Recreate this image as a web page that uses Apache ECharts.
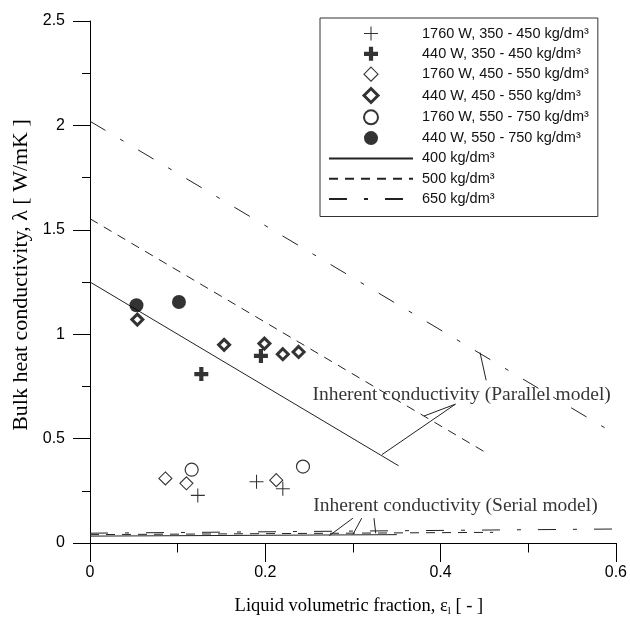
<!DOCTYPE html>
<html>
<head>
<meta charset="utf-8">
<script src="https://cdn.jsdelivr.net/npm/echarts@6/dist/echarts.min.js"></script>
<style>
html,body{margin:0;padding:0;background:#fff;}
#chart{width:630px;height:622px;}
</style>
</head>
<body>
<div id="chart"></div>
<script>
// ---- measured points (x = liquid volumetric fraction, y = bulk conductivity) ----
const plus1760 = [[0.123, 0.228], [0.190, 0.293], [0.220, 0.260]];
const plus440  = [[0.127, 0.809], [0.195, 0.896]];
const dia1760  = [[0.086, 0.309], [0.110, 0.286], [0.2125, 0.301]];
const dia440   = [[0.054, 1.070], [0.153, 0.949], [0.199, 0.955], [0.220, 0.904], [0.238, 0.915]];
const circ1760 = [[0.116, 0.351], [0.243, 0.366]];
const circ440  = [[0.053, 1.139], [0.1015, 1.154]];

// ---- model lines (parallel model) ----
const par400 = [[0, 1.25], [0.352, 0.37]];
const par500 = [[0, 1.553], [0.452, 0.432]];
const par650 = [[0, 2.02], [0.6, 0.52]];
// ---- model lines (serial model) ----
const ser400 = [[0, 0.033], [0.35, 0.040]];
const ser500 = [[0, 0.040], [0.46, 0.051]];
const ser650 = [[0, 0.047], [0.6, 0.067]];

// ---- annotation leader lines (data units) ----
const parLeaders = [
  [[0.417, 0.665], [0.333, 0.423]],
  [[0.417, 0.665], [0.381, 0.608]],
  [[0.452, 0.779], [0.445, 0.912]]
];
const serLeaders = [
  [[0.300, 0.119], [0.273, 0.035]],
  [[0.310, 0.119], [0.300, 0.041]],
  [[0.324, 0.119], [0.326, 0.046]]
];
const parText = { pos: [0.424, 0.708], text: 'Inherent conductivity (Parallel model)' };
const serText = { pos: [0.417, 0.176], text: 'Inherent conductivity (Serial model)' };

// ---- names / ticks ----
const names = [
  '1760 W, 350 - 450 kg/dm³',
  '440 W, 350 - 450 kg/dm³',
  '1760 W, 450 - 550 kg/dm³',
  '440 W, 450 - 550 kg/dm³',
  '1760 W, 550 - 750 kg/dm³',
  '440 W, 550 - 750 kg/dm³',
  '400 kg/dm³',
  '500 kg/dm³',
  '650 kg/dm³'
];
const xRange = [0, 0.6, 0.2];
const yRange = [0, 2.5, 0.5];

const serifFont = '"Liberation Serif", "Times New Roman", serif';
const sansFont = '"Liberation Sans", Arial, sans-serif';
const INK = '#111';
const NONE = 'rgba(0,0,0,0)';

const thinPlus = 'path://M9.25,0 H10.75 V9.25 H20 V10.75 H10.75 V20 H9.25 V10.75 H0 V9.25 H9.25 Z';
const boldPlus = 'path://M7,0 H13 V7 H20 V13 H13 V20 H7 V13 H0 V7 H7 Z';
const diamondPath = 'path://M10,0 L20,10 L10,20 L0,10 Z';

const dashDot = [18, 17, 4, 17];
const dashed = [9, 7];

function lineSeries(name, data, type) {
  return {
    name, type: 'line', data, symbol: 'none', silent: true, z: 2,
    itemStyle: { color: NONE, borderColor: NONE, borderWidth: 0 },
    lineStyle: { color: '#222', width: 1, type: type }
  };
}
function leaderSeries(seg, id) {
  return {
    name: 'leader' + id, type: 'line', data: seg, symbol: 'none', silent: true, z: 2,
    lineStyle: { color: '#222', width: 1 }
  };
}
function textSeries(t, id) {
  return {
    name: 'text' + id, type: 'scatter', data: [t.pos], symbolSize: 1, silent: true, z: 3,
    itemStyle: { color: NONE },
    label: {
      show: true, position: 'inside', formatter: t.text,
      fontFamily: serifFont, fontSize: 19.5, color: '#000'
    }
  };
}

const series = [
  lineSeries(names[6], par400, 'solid'),
  lineSeries(names[7], par500, dashed),
  lineSeries(names[8], par650, dashDot),
  lineSeries('s400', ser400, 'solid'),
  lineSeries('s500', ser500, dashed),
  lineSeries('s650', ser650, dashDot),
  ...parLeaders.map((s, i) => leaderSeries(s, 'p' + i)),
  ...serLeaders.map((s, i) => leaderSeries(s, 's' + i)),
  textSeries(parText, 'p'),
  textSeries(serText, 's'),
  { name: names[0], type: 'scatter', data: plus1760, symbol: thinPlus, symbolSize: 14, z: 5,
    symbolKeepAspect: true, itemStyle: { color: '#000' } },
  { name: names[1], type: 'scatter', data: plus440, symbol: boldPlus, symbolSize: 14, z: 5,
    symbolKeepAspect: true, itemStyle: { color: '#000' } },
  { name: names[2], type: 'scatter', data: dia1760, symbol: diamondPath, symbolSize: 13, z: 5,
    symbolKeepAspect: true, itemStyle: { color: '#fff', borderColor: '#000', borderWidth: 1.1 } },
  { name: names[3], type: 'scatter', data: dia440, symbol: diamondPath, symbolSize: 11, z: 5,
    symbolKeepAspect: true, itemStyle: { color: '#fff', borderColor: '#000', borderWidth: 3 } },
  { name: names[4], type: 'scatter', data: circ1760, symbol: 'circle', symbolSize: 13, z: 5,
    symbolKeepAspect: true, itemStyle: { color: '#fff', borderColor: '#000', borderWidth: 1.2 } },
  { name: names[5], type: 'scatter', data: circ440, symbol: 'circle', symbolSize: 14, z: 5,
    symbolKeepAspect: true, itemStyle: { color: '#000' } }
];

const legendData = names.map((n, i) => {
  if (i === 2) return { name: n, itemStyle: { color: '#fff', borderColor: '#000', borderWidth: 1.1 } };
  if (i === 3) return { name: n, itemStyle: { color: '#fff', borderColor: '#000', borderWidth: 3 } };
  return { name: n };
});

const chart = echarts.init(document.getElementById('chart'), null, { renderer: 'canvas' });
chart.setOption({
  animation: false,
  backgroundColor: '#fff',
  grid: { left: 90, right: 12, top: 21, bottom: 75, containLabel: false },
  legend: {
    data: legendData,
    orient: 'vertical',
    left: 320, top: 18,
    padding: [8, 9, 10, 8],
    itemWidth: 84, itemHeight: 14, itemGap: 5.3,
    borderColor: '#333', borderWidth: 1,
    backgroundColor: '#fff',
    selectedMode: false,
    textStyle: { fontFamily: sansFont, fontSize: 14.5, color: INK, padding: [0, 0, 0, 4] }
  },
  xAxis: {
    type: 'value', min: xRange[0], max: xRange[1], interval: xRange[2],
    axisLine: { show: true, onZero: false, lineStyle: { color: '#000', width: 1 } },
    axisTick: { show: true, length: 19, lineStyle: { color: '#000', width: 1 } },
    minorTick: { show: true, splitNumber: 2, length: 9.5, lineStyle: { color: '#000', width: 1 } },
    splitLine: { show: false }, minorSplitLine: { show: false },
    axisLabel: { margin: 22, fontFamily: sansFont, fontSize: 16, color: '#000',
      formatter: v => String(+v.toFixed(1)) },
    name: '{a|Liquid volumetric fraction, ε}{s|l}{a| [ - ]}',
    nameLocation: 'middle', nameGap: 52,
    nameTextStyle: {
      padding: [0, 0, 0, 12],
      rich: {
        a: { fontFamily: serifFont, fontSize: 18.5, color: '#000', lineHeight: 22 },
        s: { fontFamily: serifFont, fontSize: 11, color: '#000', lineHeight: 22, verticalAlign: 'bottom' }
      }
    }
  },
  yAxis: {
    type: 'value', min: yRange[0], max: yRange[1], interval: yRange[2],
    axisLine: { show: true, onZero: false, lineStyle: { color: '#000', width: 1 } },
    axisTick: { show: true, length: 17, lineStyle: { color: '#000', width: 1 } },
    minorTick: { show: true, splitNumber: 2, length: 8, lineStyle: { color: '#000', width: 1 } },
    splitLine: { show: false }, minorSplitLine: { show: false },
    axisLabel: { margin: 25, fontFamily: sansFont, fontSize: 16, color: '#000' },
    name: 'Bulk heat conductivity, λ [ W/mK ]',
    nameLocation: 'middle', nameGap: 51, nameRotate: 90,
    nameTextStyle: { fontFamily: serifFont, fontSize: 22, color: '#000', padding: [0, 0, 0, 14] }
  },
  series
});
</script>
</body>
</html>
